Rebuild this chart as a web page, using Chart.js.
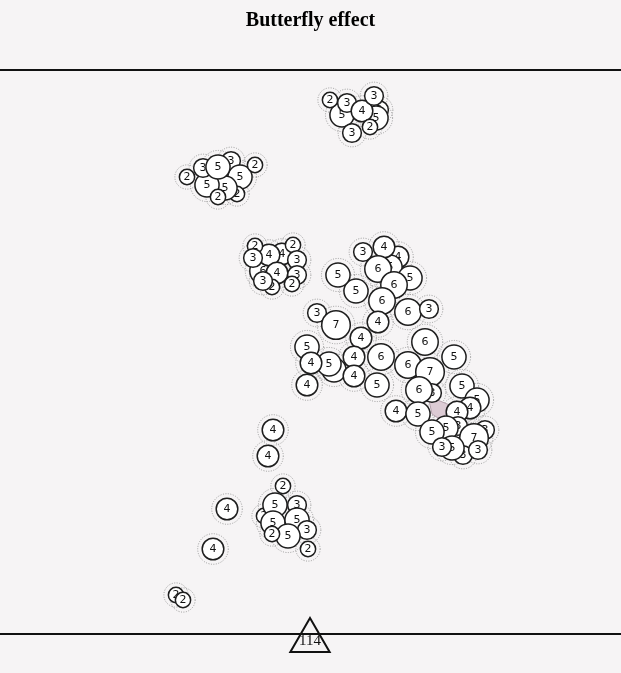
<!DOCTYPE html>
<html><head><meta charset="utf-8">
<script src="https://cdn.jsdelivr.net/npm/chart.js@4"></script>
<style>
html,body{margin:0;padding:0;background:#f6f4f5;}
#wrap{width:621px;height:673px;position:relative;}
</style></head><body>
<div id="wrap"><canvas id="c" width="621" height="673"></canvas></div>
<script>
const chartTitle = 'Butterfly effect';

// bubbles: x position, y position, count shown in each bubble (drawn in this order)
const xs = [
  379,376,342,330,347,362,374,370,352,
  231,240,237,225,207,218,187,203,218,255,
  263,282,269,255,253,293,297,277,297,272,263,292,
  398,390,384,363,378,410,394,356,338,382,408,429,
  317,336,378,361,307,334,329,311,354,381,354,307,377,
  425,454,408,430,432,419,462,477,470,396,418,457,
  458,446,485,474,432,463,452,442,478,
  273,268,
  264,283,275,297,273,297,307,288,272,308,227,213,
  176,183
];
const ys = [
  110,118,115,100,103,111,96,127,133,
  161,177,194,188,185,197,177,168,167,165,
  271,254,255,246,258,245,260,273,275,287,281,284,
  257,267,247,252,269,278,285,291,275,301,312,309,
  313,325,322,338,347,370,364,363,357,357,376,385,385,
  342,357,365,372,393,390,386,400,408,411,414,412,
  426,428,430,438,432,455,448,447,450,
  430,456,
  516,486,505,505,523,520,530,536,534,549,509,549,
  595,600
];
const counts = [
  3,5,5,2,3,4,3,2,3,
  3,5,2,5,5,2,2,3,5,2,
  6,4,4,2,3,2,3,4,3,2,3,2,
  4,5,4,3,6,5,6,5,5,6,6,3,
  3,7,4,4,5,5,5,4,4,6,4,4,5,
  6,5,6,7,3,6,5,5,4,4,5,4,
  3,5,3,7,5,3,5,3,3,
  4,4,
  2,2,5,3,5,5,3,5,2,2,4,4,
  2,2
];

// shaded link area
const polyX = [428, 452, 441, 432];
const polyY = [396, 406, 420, 414];

// total marker
const totalValue = 114;
const totalX = [310];
const totalY = [640.7];

const ruleYs = [70, 634];

function radiusFor(v){ return 5.4*Math.sqrt(v); }

const icons = {};
function iconFor(v){
  if (icons[v]) return icons[v];
  const r = radiusFor(v);
  const s = 2*Math.ceil(r+2);
  const cv = document.createElement('canvas');
  cv.width = s; cv.height = s;
  const g = cv.getContext('2d');
  g.beginPath(); g.arc(s/2, s/2, r, 0, Math.PI*2);
  g.fillStyle = '#ffffff'; g.fill();
  g.lineWidth = 1.5; g.strokeStyle = '#1e1e1e'; g.stroke();
  g.fillStyle = '#111'; g.font = '11px "DejaVu Sans", sans-serif';
  g.textAlign = 'center'; g.textBaseline = 'middle';
  g.fillText(String(v), s/2, s/2 + 0.5);
  icons[v] = cv;
  return cv;
}

const underlay = {
  id: 'underlay',
  beforeDatasetsDraw(chart){
    const ctx = chart.ctx, sx = chart.scales.x, sy = chart.scales.y;
    ctx.save();
    // horizontal rules
    ctx.strokeStyle = '#111'; ctx.lineWidth = 2;
    ruleYs.forEach(v => {
      const py = Math.round(sy.getPixelForValue(v));
      ctx.beginPath(); ctx.moveTo(0, py); ctx.lineTo(chart.width, py); ctx.stroke();
    });
    // dotted halos
    const meta = chart.getDatasetMeta(0);
    ctx.setLineDash([1, 1.5]); ctx.strokeStyle = '#999'; ctx.lineWidth = 1;
    meta.data.forEach((pt, i) => {
      ctx.beginPath(); ctx.arc(pt.x, pt.y, radiusFor(counts[i]) + 4.5, 0, Math.PI*2); ctx.stroke();
    });
    ctx.setLineDash([]);
    // shaded polygon
    ctx.beginPath();
    polyX.forEach((v, i) => {
      const px = sx.getPixelForValue(v), py = sy.getPixelForValue(polyY[i]);
      if (i === 0) ctx.moveTo(px, py); else ctx.lineTo(px, py);
    });
    ctx.closePath();
    ctx.fillStyle = '#dccbd4'; ctx.fill();
    ctx.strokeStyle = '#a8939f'; ctx.lineWidth = 0.8; ctx.stroke();
    ctx.restore();
  },
  afterDatasetsDraw(chart){
    const ctx = chart.ctx;
    const el = chart.getDatasetMeta(1).data[0];
    ctx.save();
    ctx.fillStyle = '#111'; ctx.font = '15px "Liberation Serif", serif';
    ctx.textAlign = 'center'; ctx.textBaseline = 'middle';
    ctx.fillText(String(totalValue), el.x, el.y);
    ctx.restore();
  }
};

new Chart(document.getElementById('c'), {
  type: 'scatter',
  data: {
    datasets: [
      {
        label: 'groups',
        data: xs.map((x, i) => ({x, y: ys[i]})),
        pointStyle: ctx => iconFor(counts[ctx.dataIndex]),
        pointRadius: 10,
        pointHoverRadius: 10
      },
      {
        label: 'total',
        data: totalX.map((x, i) => ({x, y: totalY[i]})),
        pointStyle: 'triangle',
        pointRadius: 22.7,
        pointHoverRadius: 22.7,
        borderColor: '#111',
        borderWidth: 2,
        backgroundColor: 'rgba(0,0,0,0)'
      }
    ]
  },
  options: {
    responsive: false,
    animation: false,
    events: [],
    layout: { padding: 0, autoPadding: false },
    plugins: {
      legend: { display: false },
      tooltip: { enabled: false },
      title: {
        display: true, text: chartTitle, color: '#000',
        font: { family: '"Liberation Serif", serif', size: 20, weight: 'bold' },
        padding: { top: 9, bottom: 9 }
      }
    },
    scales: {
      x: { type: 'linear', min: 0, max: 621, display: false },
      y: { type: 'linear', min: 42, max: 673, reverse: true, display: false }
    }
  },
  plugins: [underlay]
});
</script>
</body></html>
